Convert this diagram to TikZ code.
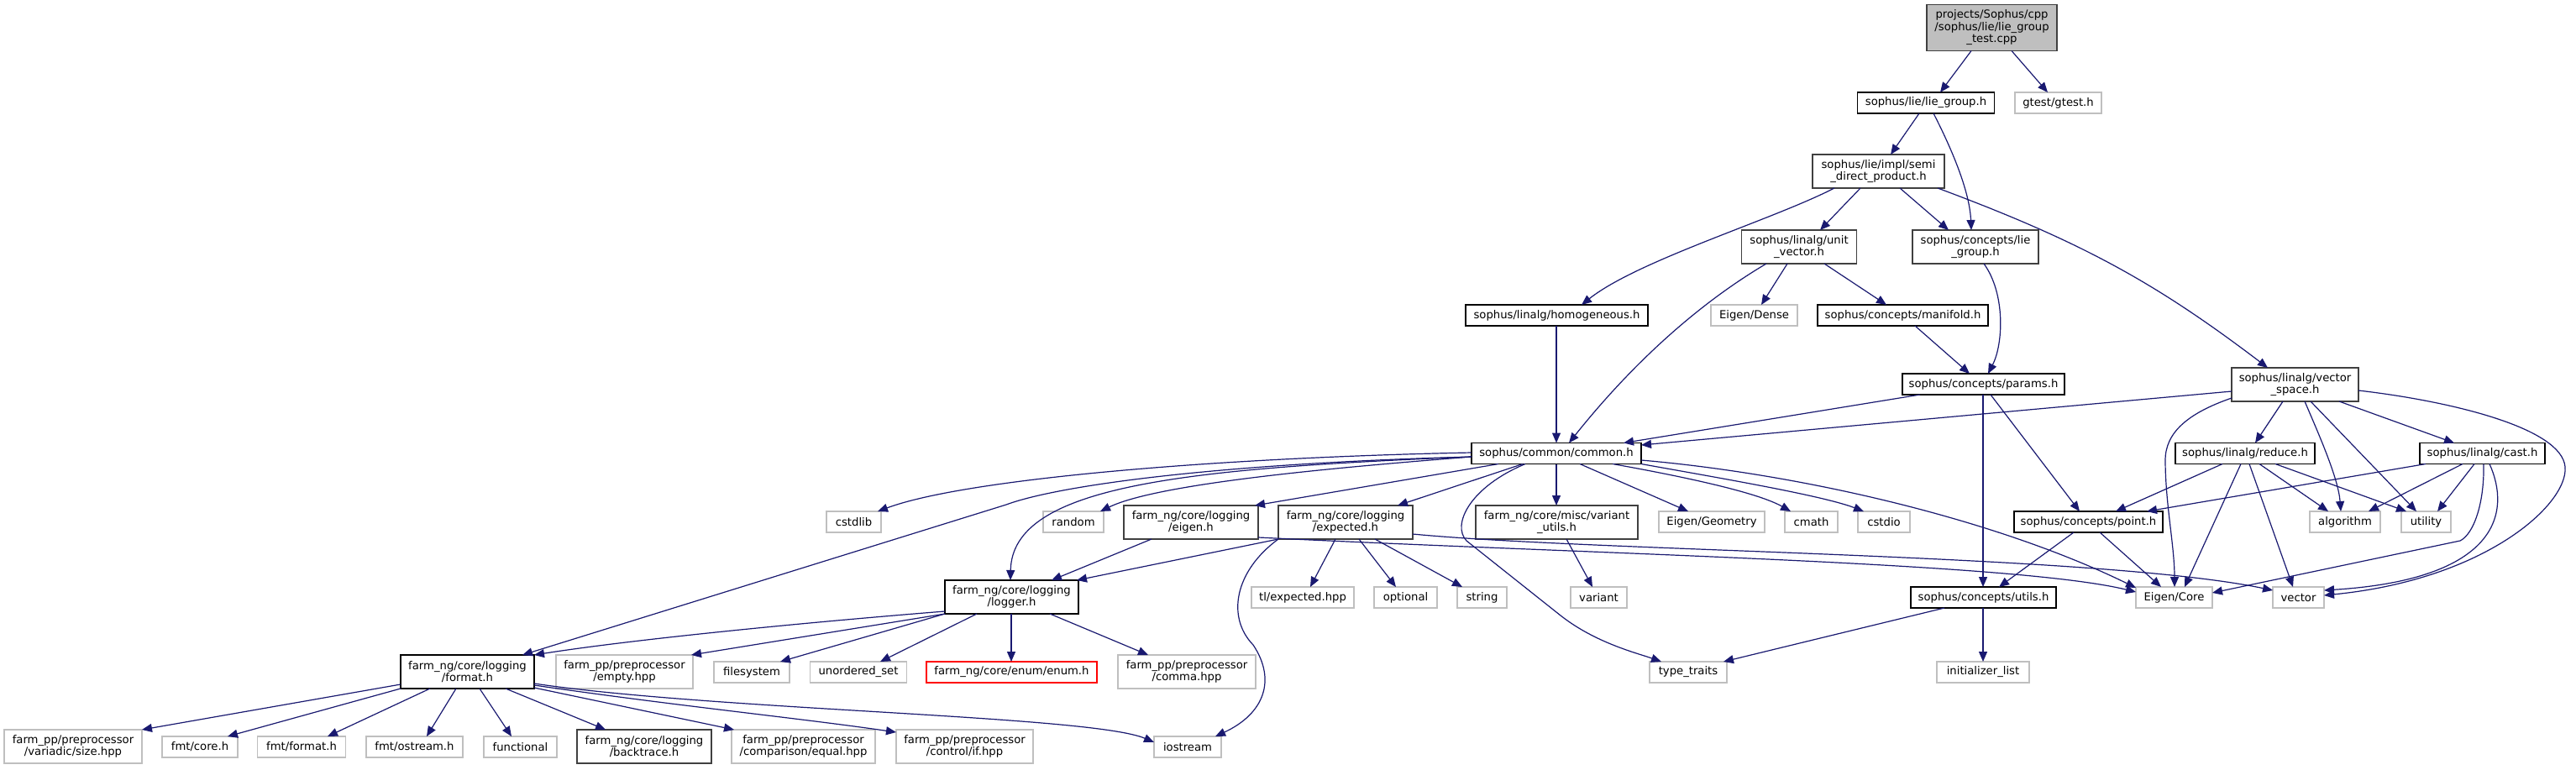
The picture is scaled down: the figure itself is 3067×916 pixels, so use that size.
\documentclass[tikz,border=0pt]{standalone}
\usepackage{fontspec}
\setmainfont{DejaVu Sans}
\usetikzlibrary{arrows.meta}
\definecolor{edgeblue}{HTML}{191970}
\definecolor{grayext}{HTML}{BFBFBF}
\definecolor{grayd}{HTML}{404040}
\definecolor{rootfill}{HTML}{BFBFBF}
\newcommand\nodefont{\fontsize{6.6pt}{7.25pt}\selectfont}
\begin{document}
\begin{tikzpicture}[x=0.5pt,y=-0.5pt,
  box/.style={rectangle, inner sep=0pt, outer sep=0pt, align=center, font=\nodefont, fill=white, line width=0.7pt},
  int/.style={box, draw=black},
  intg/.style={box, draw=grayd},
  ext/.style={box, draw=grayext},
  trunc/.style={box, draw=red},
  rootbox/.style={box, draw=grayd, fill=rootfill},
  wh/.style 2 args={minimum width=#1*0.5pt, minimum height=#2*0.5pt},
  dep/.style={draw=edgeblue, line width=0.6pt, -{Triangle[length=6pt,width=5pt]}},
]
\fill[white] (0,0) rectangle (3067,916);
\useasboundingbox (0,0) rectangle (3067,916);

% nodes
\node[rootbox, wh={155}{55}] (root) at (2371.5,33) {projects/Sophus/cpp\\/sophus/lie/lie\_group\\\_test.cpp};
\node[int, wh={163}{25}] (liegroup) at (2293,122.5) {sophus/lie/lie\_group.h};
\node[ext, wh={103}{25}] (gtest) at (2450.5,122.5) {gtest/gtest.h};
\node[intg, wh={157}{40}] (semi) at (2236.5,204) {sophus/lie/impl/semi\\\_direct\_product.h};
\node[intg, wh={137}{40}] (unitvec) at (2142,294) {sophus/linalg/unit\\\_vector.h};
\node[intg, wh={150}{40}] (conlie) at (2352,294) {sophus/concepts/lie\\\_group.h};
\node[int, wh={217}{25}] (homog) at (1853.5,375.5) {sophus/linalg/homogeneous.h};
\node[ext, wh={103}{25}] (edense) at (2088.5,375.5) {Eigen/Dense};
\node[int, wh={203}{25}] (manifold) at (2265.5,375.5) {sophus/concepts/manifold.h};
\node[int, wh={193}{25}] (params) at (2361.5,457.5) {sophus/concepts/params.h};
\node[intg, wh={151}{40}] (vecspace) at (2732.5,458) {sophus/linalg/vector\\\_space.h};
\node[int, wh={202}{25}] (common) at (1853,540) {sophus/common/common.h};
\node[int, wh={166}{25}] (reduce) at (2673,540) {sophus/linalg/reduce.h};
\node[int, wh={149}{25}] (cast) at (2955.5,540) {sophus/linalg/cast.h};
\node[ext, wh={65}{25}] (cstdlib) at (1016.5,621.5) {cstdlib};
\node[ext, wh={72}{25}] (random) at (1278,621.5) {random};
\node[intg, wh={160}{40}] (eigenh) at (1418,622) {farm\_ng/core/logging\\/eigen.h};
\node[intg, wh={160}{40}] (expected) at (1602,622) {farm\_ng/core/logging\\/expected.h};
\node[intg, wh={193}{40}] (varutils) at (1853.5,622) {farm\_ng/core/misc/variant\\\_utils.h};
\node[ext, wh={126}{25}] (egeom) at (2038,621.5) {Eigen/Geometry};
\node[ext, wh={63}{25}] (cmath) at (2156.5,621.5) {cmath};
\node[ext, wh={62}{25}] (cstdio) at (2243,621.5) {cstdio};
\node[int, wh={177}{25}] (point) at (2486.5,621.5) {sophus/concepts/point.h};
\node[ext, wh={84}{25}] (algorithm) at (2792,621.5) {algorithm};
\node[ext, wh={59}{25}] (utility) at (2888.5,621.5) {utility};
\node[int, wh={159}{40}] (logger) at (1204.5,711) {farm\_ng/core/logging\\/logger.h};
\node[ext, wh={122}{25}] (tlexp) at (1551,711.5) {tl/expected.hpp};
\node[ext, wh={75}{25}] (optional) at (1673.5,711.5) {optional};
\node[ext, wh={59}{25}] (string) at (1764.5,711.5) {string};
\node[ext, wh={67}{25}] (variant) at (1903.5,711.5) {variant};
\node[int, wh={173}{25}] (utils) at (2361.5,711.5) {sophus/concepts/utils.h};
\node[ext, wh={91}{25}] (ecore) at (2588.5,711.5) {Eigen/Core};
\node[ext, wh={61}{25}] (vector) at (2736.5,711.5) {vector};
\node[int, wh={159}{40}] (format) at (556.5,800) {farm\_ng/core/logging\\/format.h};
\node[ext, wh={163}{40}] (empty) at (743.5,800) {farm\_pp/preprocessor\\/empty.hpp};
\node[ext, wh={90}{25}] (filesystem) at (895,800.5) {filesystem};
\node[ext, wh={115}{25}] (unordset) at (1022,800.5) {unordered\_set};
\node[trunc, wh={203}{25}] (enum) at (1204.5,800.5) {farm\_ng/core/enum/enum.h};
\node[ext, wh={164}{40}] (comma) at (1413,800) {farm\_pp/preprocessor\\/comma.hpp};
\node[ext, wh={92}{25}] (typetraits) at (2010,800.5) {type\_traits};
\node[ext, wh={110}{25}] (initlist) at (2361,800.5) {initializer\_list};
\node[ext, wh={164}{40}] (variadic) at (87,889) {farm\_pp/preprocessor\\/variadic/size.hpp};
\node[ext, wh={90}{25}] (fmtcore) at (238,889.5) {fmt/core.h};
\node[ext, wh={105}{25}] (fmtformat) at (359,889.5) {fmt/format.h};
\node[ext, wh={115}{25}] (fmtostream) at (493.5,889.5) {fmt/ostream.h};
\node[ext, wh={87}{25}] (functional) at (619.5,889.5) {functional};
\node[intg, wh={160}{40}] (backtrace) at (767,889) {farm\_ng/core/logging\\/backtrace.h};
\node[ext, wh={171}{40}] (equal) at (956.5,889) {farm\_pp/preprocessor\\/comparison/equal.hpp};
\node[ext, wh={163}{40}] (controlif) at (1148.5,889) {farm\_pp/preprocessor\\/control/if.hpp};
\node[ext, wh={80}{25}] (iostream) at (1414,889.5) {iostream};

% edges
\draw[dep] (root.south -| 2347,0) -- (liegroup.north -| 2310,0);
\draw[dep] (root.south -| 2395,0) -- (gtest.north -| 2438,0);
\draw[dep] (liegroup.south -| 2285,0) -- (semi.north -| 2251,0);
\draw[dep] (liegroup.south -| 2302,0) .. controls (2320,170) and (2345,225) .. (conlie.north -| 2347,0);
\draw[dep] (semi.south -| 2184,0) .. controls (2110,262) and (1950,310) .. (homog.north -| 1883,0);
\draw[dep] (semi.south -| 2215,0) -- (unitvec.north -| 2167,0);
\draw[dep] (semi.south -| 2262,0) -- (conlie.north -| 2320,0);
\draw[dep] (semi.south -| 2307,0) .. controls (2479,288) and (2567,337) .. (vecspace.north -| 2700,0);
\draw[dep] (unitvec.south -| 2103,0) .. controls (1993,379) and (1913,471) .. (common.north -| 1868,0);
\draw[dep] (unitvec.south -| 2128,0) -- (edense.north -| 2097,0);
\draw[dep] (unitvec.south -| 2172,0) -- (manifold.north -| 2246,0);
\draw[dep] (conlie.south -| 2362,0) .. controls (2388,350) and (2385,410) .. (params.north -| 2367,0);
\draw[dep] (manifold.south -| 2280,0) -- (params.north -| 2345,0);
\draw[dep] (homog.south -| 1853,0) -- (common.north -| 1853,0);
\draw[dep] (params.south -| 2286,0) -- (common.north -| 1933,0);
\draw[dep] (params.south -| 2361,0) -- (utils.north -| 2361,0);
\draw[dep] (params.south -| 2370,0) -- (point.north -| 2476,0);
\draw[dep] (vecspace.west |- 0,466) -- (common.east |- 0,530);
\draw[dep] (vecspace.west |- 0,474) .. controls (2605,492) and (2578,515) .. (2578,548) .. controls (2578,600) and (2589,650) .. (ecore.north -| 2589,0);
\draw[dep] (vecspace.south -| 2718,0) -- (reduce.north -| 2685,0);
\draw[dep] (vecspace.south -| 2744,0) .. controls (2762,520) and (2784,570) .. (algorithm.north -| 2787,0);
\draw[dep] (vecspace.south -| 2751,0) -- (utility.north -| 2877,0);
\draw[dep] (vecspace.south -| 2785,0) -- (cast.north -| 2922,0);
\draw[dep] (vecspace.east |- 0,465) .. controls (2920,478) and (3050,510) .. (3054,556) .. controls (3058,600) and (2960,690) .. (vector.east |- 0,709);
\draw[dep] (reduce.south -| 2646,0) -- (point.north -| 2519,0);
\draw[dep] (reduce.south -| 2668,0) -- (ecore.north -| 2601,0);
\draw[dep] (reduce.south -| 2678,0) -- (vector.north -| 2730,0);
\draw[dep] (reduce.south -| 2690,0) -- (algorithm.north -| 2772,0);
\draw[dep] (reduce.south -| 2709,0) -- (utility.north -| 2865,0);
\draw[dep] (cast.south -| 2888,0) -- (point.north -| 2556,0);
\draw[dep] (cast.south -| 2932,0) -- (algorithm.north -| 2820,0);
\draw[dep] (cast.south -| 2946,0) -- (utility.north -| 2902,0);
\draw[dep] (cast.south -| 2957,0) .. controls (2958,600) and (2945,636) .. (2929,644) -- (ecore.east |- 0,706);
\draw[dep] (cast.south -| 2964,0) .. controls (2990,610) and (2975,690) .. (vector.east |- 0,703);
\draw[dep] (point.south -| 2469,0) -- (utils.north -| 2380,0);
\draw[dep] (point.south -| 2500,0) -- (ecore.north -| 2573,0);
\draw[dep] (utils.south -| 2361,0) -- (initlist.north -| 2361,0);
\draw[dep] (utils.south -| 2315,0) -- (typetraits.north -| 2052,0);
\draw[dep] (common.west |- 0,539) .. controls (1450,545) and (1150,570) .. (cstdlib.north -| 1045,0);
\draw[dep] (common.west |- 0,544) .. controls (1600,556) and (1380,575) .. (random.north -| 1310,0);
\draw[dep] (common.west |- 0,544) .. controls (1400,558) and (1205,580) .. (logger.north -| 1203,0);
\draw[dep] (common.west |- 0,544) .. controls (1450,552) and (1260,578) .. (1198,601) -- (format.north -| 622,0);
\draw[dep] (common.south -| 1784,0) -- (eigenh.north -| 1494,0);
\draw[dep] (common.south -| 1813,0) -- (expected.north -| 1664,0);
\draw[dep] (common.south -| 1853,0) -- (varutils.north -| 1853,0);
\draw[dep] (common.south -| 1881,0) -- (egeom.north -| 2010,0);
\draw[dep] (common.south -| 1920,0) .. controls (1990,565) and (2090,585) .. (cmath.north -| 2132,0);
\draw[dep] (common.south east) .. controls (2040,568) and (2170,590) .. (cstdio.north -| 2219,0);
\draw[dep] (common.east |- 0,548) .. controls (2150,565) and (2380,620) .. (ecore.west |- 0,700);
\draw[dep] (common.south -| 1816,0) .. controls (1750,580) and (1728,625) .. (1746,644) -- (1858,733) .. controls (1900,766) and (1950,778) .. (typetraits.north -| 1978,0);
\draw[dep] (eigenh.south -| 1371,0) -- (logger.north -| 1252,0);
\draw[dep] (eigenh.east |- 0,640) .. controls (1900,660) and (2400,670) .. (ecore.west |- 0,705);
\draw[dep] (expected.south west) -- (logger.north -| 1282,0);
\draw[dep] (expected.south -| 1590,0) -- (tlexp.north -| 1560,0);
\draw[dep] (expected.south -| 1618,0) -- (optional.north -| 1662,0);
\draw[dep] (expected.south -| 1637,0) -- (string.north -| 1741,0);
\draw[dep] (expected.south west) .. controls (1470,680) and (1460,735) .. (1492,768) .. controls (1520,810) and (1505,850) .. (iostream.north -| 1447,0);
\draw[dep] (expected.east |- 0,636) .. controls (1900,657) and (2500,660) .. (vector.west |- 0,703);
\draw[dep] (varutils.south -| 1865,0) -- (variant.north -| 1896,0);
\draw[dep] (logger.west |- 0,728) .. controls (950,742) and (750,762) .. (format.north east);
\draw[dep] (logger.south west) -- (empty.north -| 823,0);
\draw[dep] (logger.south west) -- (filesystem.north -| 929,0);
\draw[dep] (logger.south -| 1163,0) -- (unordset.north -| 1048,0);
\draw[dep] (logger.south -| 1204,0) -- (enum.north -| 1204,0);
\draw[dep] (logger.south -| 1250,0) -- (comma.north -| 1367,0);
\draw[dep] (format.west |- 0,815) -- (variadic.north east);
\draw[dep] (format.south west) -- (fmtcore.north -| 271,0);
\draw[dep] (format.south -| 512,0) -- (fmtformat.north -| 390,0);
\draw[dep] (format.south -| 543,0) -- (fmtostream.north -| 508,0);
\draw[dep] (format.south -| 571,0) -- (functional.north -| 609,0);
\draw[dep] (format.south -| 602,0) -- (backtrace.north -| 721,0);
\draw[dep] (format.east |- 0,819) -- (equal.north -| 874,0);
\draw[dep] (format.east |- 0,816) .. controls (800,840) and (950,855) .. (controlif.west |- 0,872);
\draw[dep] (format.east |- 0,814) .. controls (850,846) and (1300,852) .. (iostream.west |- 0,884);
\end{tikzpicture}
\end{document}
